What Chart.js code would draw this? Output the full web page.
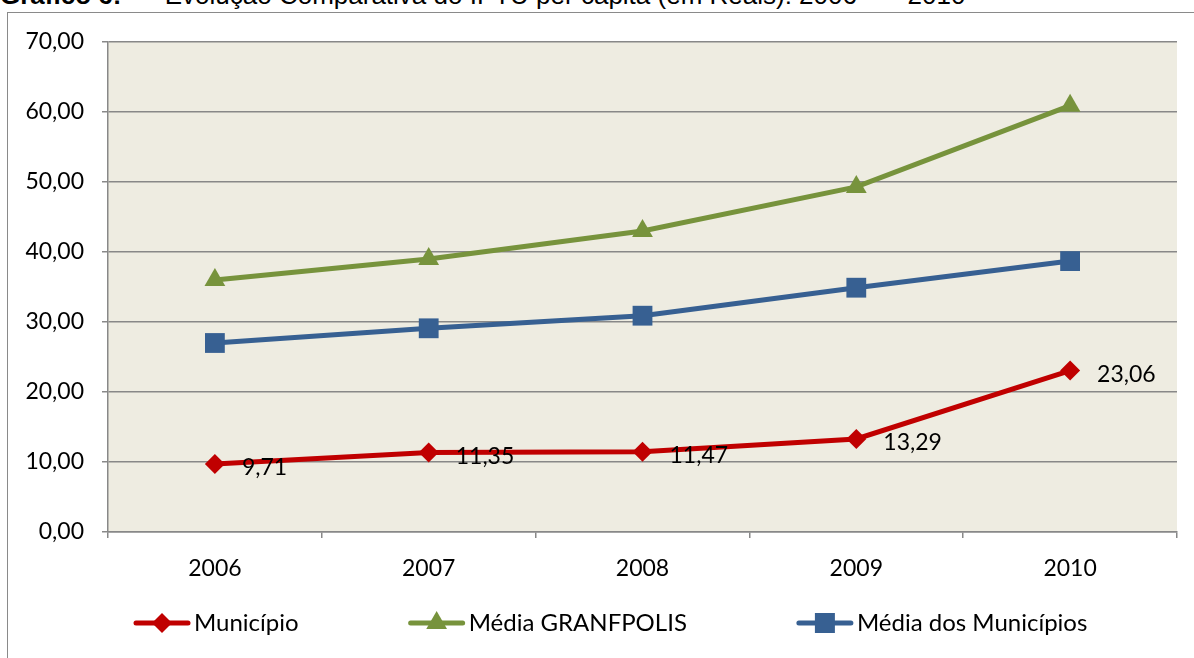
<!DOCTYPE html>
<html>
<head>
<meta charset="utf-8">
<script src="https://cdn.jsdelivr.net/npm/chart.js@4.4.0/dist/chart.umd.min.js"></script>
<style>
  body { margin: 0; background: #fff; width: 1194px; height: 658px; overflow: hidden; position: relative; }
  #title { position: absolute; left: 0; top: -20px; font-family: "Liberation Sans", Arial, sans-serif; font-size: 26px; white-space: pre; color: #000; }
  #frame { position: absolute; left: 7px; top: 12px; width: 1300px; height: 800px; border: 1.5px solid #8a8a8a; }
  #chart { position: absolute; left: 0; top: 0; }
</style>
</head>
<body>
<div id="title"><b>Gráfico 6:</b>  –  Evolução Comparativa do IPTU per capita (em Reais): 2006  –   2010</div>
<div id="frame"></div>
<canvas id="chart" width="1194" height="658"></canvas>
<script>
const years = ['2006', '2007', '2008', '2009', '2010'];
const municipio = [9.71, 11.35, 11.47, 13.29, 23.06];
const mediaGranfpolis = [36.0, 39.0, 43.0, 49.3, 60.9];
const mediaMunicipios = [27.0, 29.1, 30.9, 34.9, 38.7];
const seriesNames = ['Município', 'Média GRANFPOLIS', 'Média dos Municípios'];
const yMin = 0, yMax = 70, yStep = 10;

const FONT = 'Lato, "Noto Sans", sans-serif';
const fmt = v => Number(v).toFixed(2).replace('.', ',');

// plot area background
const bgPlugin = {
  id: 'bg',
  beforeDraw(chart) {
    const a = chart.chartArea, c = chart.ctx;
    c.save();
    c.fillStyle = '#EEECE1';
    c.fillRect(a.left, a.top, a.right - a.left, a.bottom - a.top);
    c.restore();
  }
};

// value labels on the first series
const valueLabels = {
  id: 'valueLabels',
  afterDatasetsDraw(chart) {
    const c = chart.ctx;
    const meta = chart.getDatasetMeta(0);
    c.save();
    c.font = '23px ' + FONT;
    c.fillStyle = '#000';
    c.textAlign = 'left';
    c.textBaseline = 'middle';
    meta.data.forEach((p, i) => {
      c.fillText(fmt(chart.data.datasets[0].data[i]), p.x + 27, p.y + 4);
    });
    c.restore();
  }
};

function marker(c, style, x, y, color) {
  c.fillStyle = color;
  c.beginPath();
  if (style === 'rectRot') {
    c.moveTo(x - 10, y); c.lineTo(x, y - 10); c.lineTo(x + 10, y); c.lineTo(x, y + 10);
  } else if (style === 'triangle') {
    c.moveTo(x, y - 12); c.lineTo(x + 10.4, y + 6); c.lineTo(x - 10.4, y + 6);
  } else {
    c.rect(x - 10, y - 10, 20, 20);
  }
  c.closePath();
  c.fill();
}

// excel-like legend: line + marker, then text
const lineLegend = {
  id: 'lineLegend',
  afterDraw(chart) {
    const c = chart.ctx;
    const y = 623;
    let x = 134;
    c.save();
    c.font = '24px ' + FONT;
    c.textBaseline = 'middle';
    c.textAlign = 'left';
    chart.data.datasets.forEach(ds => {
      c.strokeStyle = ds.borderColor;
      c.lineWidth = 5;
      c.lineCap = 'round';
      c.beginPath();
      c.moveTo(x + 2, y); c.lineTo(x + 54, y);
      c.stroke();
      marker(c, ds.pointStyle, x + 28, y, ds.borderColor);
      c.fillStyle = '#000';
      c.fillText(ds.label, x + 60, y);
      x += 60 + c.measureText(ds.label).width + 110;
    });
    c.restore();
  }
};

new Chart(document.getElementById('chart'), {
  type: 'line',
  data: {
    labels: years,
    datasets: [
      { label: seriesNames[0], data: municipio, borderColor: '#C00000', backgroundColor: '#C00000',
        pointStyle: 'rectRot', pointRadius: 10, pointBorderWidth: 0 },
      { label: seriesNames[1], data: mediaGranfpolis, borderColor: '#77933C', backgroundColor: '#77933C',
        pointStyle: 'triangle', pointRadius: 12, pointBorderWidth: 0 },
      { label: seriesNames[2], data: mediaMunicipios, borderColor: '#376092', backgroundColor: '#376092',
        pointStyle: 'rect', pointRadius: 14, pointBorderWidth: 0 }
    ]
  },
  options: {
    responsive: false,
    animation: false,
    elements: { line: { borderWidth: 5, tension: 0 } },
    layout: { padding: { left: 0, right: 17, top: 42, bottom: 0 } },
    plugins: { legend: { display: false }, tooltip: { enabled: false } },
    scales: {
      x: {
        offset: true,
        grid: { offset: true, drawOnChartArea: false, tickLength: 6, color: '#888', lineWidth: 1.5 },
        border: { color: '#888', width: 1.5 },
        ticks: { color: '#000', font: { family: FONT, size: 23 }, padding: 17 },
        afterFit(s) { s.height = 126; }
      },
      y: {
        min: yMin, max: yMax,
        grid: { color: '#888', lineWidth: 1.5, tickLength: 6 },
        border: { color: '#888', width: 1.5 },
        ticks: { stepSize: yStep, color: '#000', font: { family: FONT, size: 23 }, padding: 18, callback: v => fmt(v) },
        afterFit(s) { s.width = 108; }
      }
    }
  },
  plugins: [bgPlugin, valueLabels, lineLegend]
});
</script>
</body>
</html>
